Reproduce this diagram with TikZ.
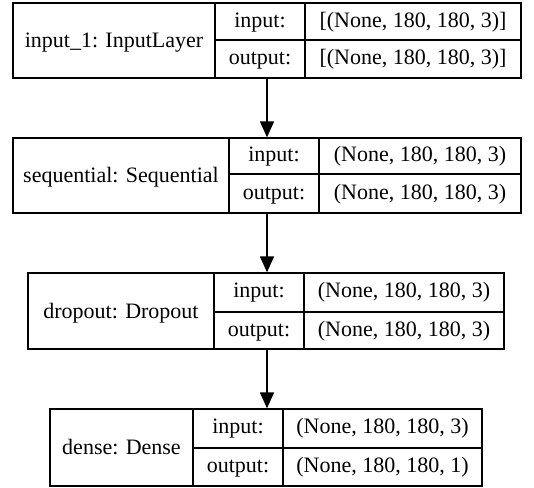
\documentclass[tikz,border=0pt]{standalone}
\usepackage{fontspec}
\setmainfont{Liberation Serif}
\usetikzlibrary{arrows.meta,fit}
\tikzset{
  box/.style={draw=black, line width=1pt, inner sep=0pt, fill=none},
  divider/.style={draw=black, line width=1pt},
  txt/.style={font=\fontsize{16.5pt}{19pt}\selectfont, inner sep=0pt, anchor=base},
  conn/.style={draw=black, line width=1pt, -{Triangle[length=12pt,width=10.5pt]}}
}
\begin{document}
\begin{tikzpicture}[x=0.75pt,y=-0.75pt]
\useasboundingbox (0,0) rectangle (534,487);
% layer 1
\node[box, fit={(13,3) (521,78)}] (L1) {};
\draw[divider] (215,3) -- (215,78) (305,3) -- (305,78) (215,40) -- (521,40);
\node[txt] (L1n) at (114,47.5) {input\_1: InputLayer};
\node[txt] (L1i) at (260,27) {input:};
\node[txt] (L1o) at (260,64.5) {output:};
\node[txt] (L1iv) at (413,27) {[(None, 180, 180, 3)]};
\node[txt] (L1ov) at (413,64.5) {[(None, 180, 180, 3)]};
% layer 2
\node[box, fit={(13,138) (521,213)}] (L2) {};
\draw[divider] (229,138) -- (229,213) (319,138) -- (319,213) (229,174) -- (521,174);
\node[txt] (L2n) at (121,182.5) {sequential: Sequential};
\node[txt] (L2i) at (274,161.5) {input:};
\node[txt] (L2o) at (274,199) {output:};
\node[txt] (L2iv) at (420,161.5) {(None, 180, 180, 3)};
\node[txt] (L2ov) at (420,199) {(None, 180, 180, 3)};
% layer 3
\node[box, fit={(28,273) (504,349)}] (L3) {};
\draw[divider] (214,273) -- (214,349) (304,273) -- (304,349) (214,312) -- (504,312);
\node[txt] (L3n) at (121,318) {dropout: Dropout};
\node[txt] (L3i) at (259,297.5) {input:};
\node[txt] (L3o) at (259,336) {output:};
\node[txt] (L3iv) at (404,297.5) {(None, 180, 180, 3)};
\node[txt] (L3ov) at (404,336) {(None, 180, 180, 3)};
% layer 4
\node[box, fit={(50,409) (482,486)}] (L4) {};
\draw[divider] (193,409) -- (193,486) (283,409) -- (283,486) (193,448) -- (482,448);
\node[txt] (L4n) at (121.5,454.5) {dense: Dense};
\node[txt] (L4i) at (238,433.5) {input:};
\node[txt] (L4o) at (238,472) {output:};
\node[txt] (L4iv) at (382.5,433.5) {(None, 180, 180, 3)};
\node[txt] (L4ov) at (382.5,472) {(None, 180, 180, 1)};
% connectors
\draw[conn] (L1.south) -- (L1.south |- L2.north);
\draw[conn] (L2.south) -- (L2.south |- L3.north);
\draw[conn] (L2.south |- L3.south) -- (L2.south |- L4.north);
\end{tikzpicture}
\end{document}
